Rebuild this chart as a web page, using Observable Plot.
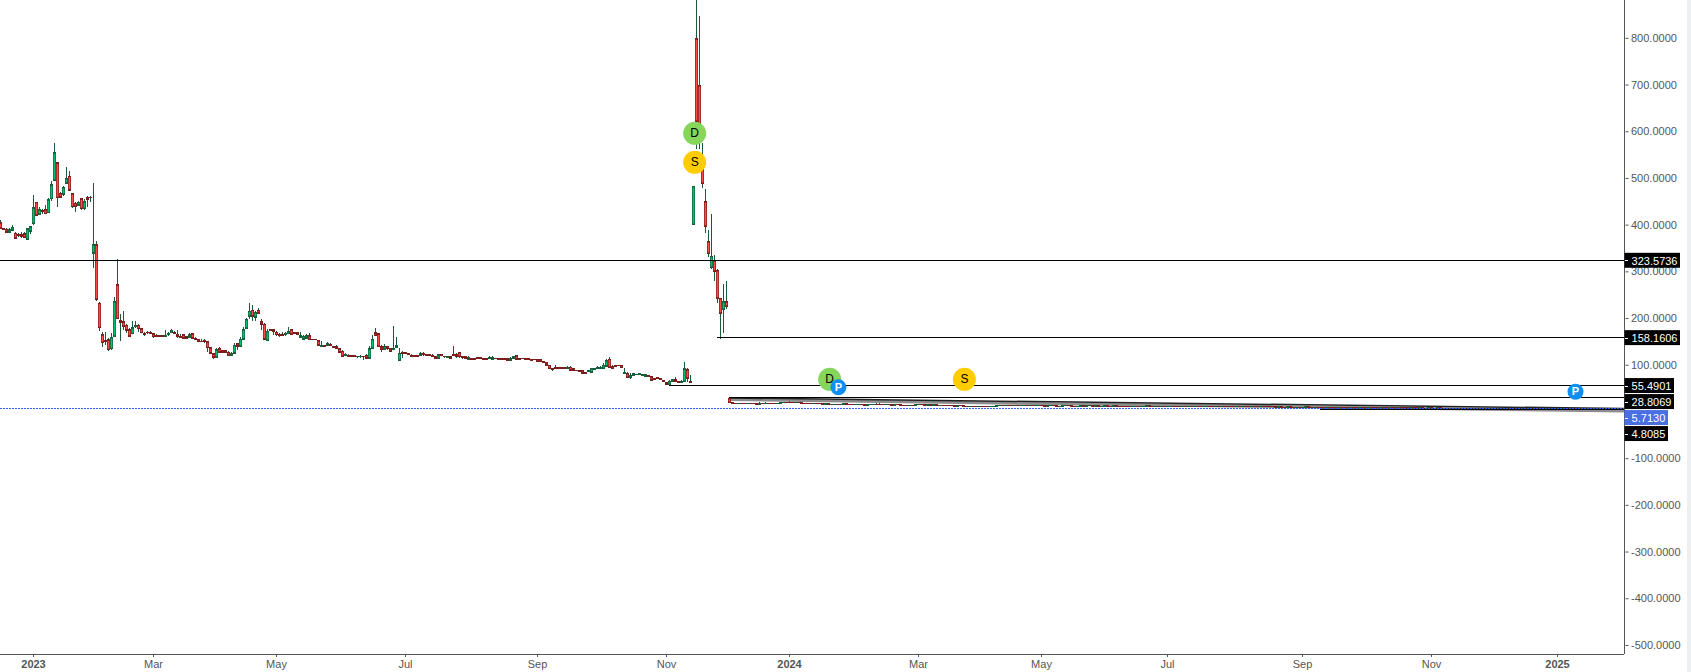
<!DOCTYPE html>
<html>
<head>
<meta charset="utf-8">
<script src="https://cdn.jsdelivr.net/npm/d3@7"></script>
<script src="https://cdn.jsdelivr.net/npm/@observablehq/plot@0.6"></script>
<style>
html,body{margin:0;padding:0;background:#fff;overflow:hidden}
#chart svg{display:block}
#strip{position:absolute;left:1687px;top:0;width:4px;height:672px;background:#eeeff1}
</style>
</head>
<body>
<div id="chart"></div>
<div id="strip"></div>
<script>
// Daily candles, first stretch
const open = [
403,391,389,383,387,381,378,377,379,368,
385,401,447,421,430,431,424,454,494,531,
466,464,488,503,465,445,441,454,433,456,
457,338,356,231,163,150,152,133,160,270,
193,191,184,174,165,180,184,176,166,169,
169,165,161,161,161,160,163,167,169,163,
159,163,159,158,165,156,153,149,150,148,
135,122,115,133,129,129,126,119,124,144,
138,154,177,203,216,201,216,191,186,151,
174,174,169,164,164,163,166,174,167,167,
158,154,156,161,154,154,150,139,140,141,
143,138,138,133,128,118,119,118,118,116,
116,117,119,113,134,167,165,137,132,137,
133,132,136,108,126,125,124,119,118,118,
119,124,121,121,118,116,113,120,117,114,
116,121,120,125,116,116,111,113,113,114,
114,113,113,112,111,113,113,113,113,112,
109,113,118,113,113,113,112,111,111,111,
111,105,103,98,91,93,93,92,92,90,
94,90,87,86,86,82,84,83,89,91,
91,91,96,111,95,98,98,98,81,80,
71,76,77,78,75,74,76,73,69,71,
70,66,60,57,64,68,64,60,63,88,
64,399,797,697,517,448,363,307,322,301,241,217,234];
const close = [
391,388,383,388,393,370,375,373,372,390,
394,435,419,431,428,422,452,484,553,456,
458,479,498,473,437,438,447,433,448,452,
456,356,239,178,146,148,131,157,234,197,
189,181,173,160,178,184,176,167,163,167,
165,159,159,159,159,161,166,172,165,159,
158,156,156,163,156,154,148,148,148,135,
124,115,131,126,126,126,119,124,141,139,
154,174,196,214,203,211,209,186,154,171,
173,171,163,162,162,166,171,164,165,164,
161,160,161,153,152,152,141,141,139,144,
141,136,134,126,117,121,117,116,116,117,
117,116,113,133,154,162,138,132,138,133,
128,134,141,124,123,123,121,117,117,117,
122,120,119,118,116,113,120,118,116,116,
113,119,116,116,115,113,114,111,111,113,
112,111,111,114,114,112,111,111,111,109,
113,116,111,111,112,111,111,109,110,106,
106,103,98,91,89,91,91,90,90,94,
87,86,86,85,81,81,86,91,91,92,
93,98,108,93,90,96,97,93,83,72,
76,80,79,80,78,78,73,66,67,69,
67,62,57,64,67,64,60,63,90,70,
60,481,620,613,487,395,337,331,299,241,209,234,224];
const high = [
408,392,391,392,398,383,381,384,383,392,
397,463,448,437,433,440,455,493,573,533,
468,481,523,513,467,447,450,456,453,461,
460,488,363,233,170,169,156,167,244,326,
208,215,187,178,192,192,187,178,170,171,
172,166,164,162,162,174,168,176,171,173,
164,164,161,166,167,159,154,153,154,150,
136,124,134,136,130,130,129,126,146,146,
158,180,199,232,226,214,221,196,189,176,
175,174,171,167,169,169,179,175,169,169,
168,163,165,166,155,155,151,149,142,147,
146,140,141,134,130,124,122,119,119,118,
119,118,121,139,163,178,167,142,144,138,
135,181,159,135,128,127,125,122,119,119,
126,126,122,122,121,118,121,121,118,118,
118,140,124,127,118,117,117,114,114,116,
115,114,114,117,117,114,114,114,114,113,
115,118,119,114,114,114,113,112,112,112,
112,106,104,99,92,98,94,93,93,96,
97,91,88,87,87,83,87,92,93,97,
96,103,111,116,98,99,99,99,91,84,
81,81,80,81,79,79,77,74,70,72,
71,67,61,67,69,73,65,66,104,91,
78,481,920,845,573,476,388,421,333,303,241,271,279];
const low = [
390,387,381,381,386,368,373,371,371,366,
378,399,417,420,421,421,423,449,492,436,
456,461,487,472,435,426,438,431,431,436,
447,306,235,171,136,142,129,131,159,196,
149,173,167,159,164,178,169,166,161,165,
164,157,158,158,158,159,161,166,164,156,
156,154,155,156,154,153,147,147,146,126,
123,112,114,125,126,125,119,119,123,131,
136,153,176,196,192,192,207,174,151,151,
171,163,161,159,161,161,165,162,164,163,
156,153,155,152,151,151,139,137,136,140,
141,134,133,124,116,117,116,115,115,114,
114,110,112,112,133,160,136,126,131,131,
126,131,135,106,113,121,121,116,116,116,
118,118,118,117,115,111,112,117,113,113,
112,118,113,114,112,111,110,110,110,111,
111,110,110,111,110,111,110,110,110,108,
108,111,110,110,111,110,110,108,109,105,
105,102,97,90,85,90,90,89,89,89,
86,85,85,84,80,80,83,82,87,90,
91,91,94,91,89,95,96,92,80,71,
69,75,76,77,74,73,72,65,66,68,
66,61,56,56,63,63,59,59,63,61,
59,399,560,560,478,380,329,303,279,232,155,166,219];

// Second stretch: near-flat candles, each opening on the previous entry
const lateSeries = [
27,18,16,15,15.5,15,15,15.5,15,15,14.5,15,
15,15.5,15,15,15,15.5,18,18.5,18,18,17.5,18,
17.5,16,15.5,15.5,15,15.5,15,15,14.5,15,13.5,14,
14.5,14,14.5,15,14.5,14,13.5,14,14.5,14,12.5,13,
14,14.5,14,13.5,13,13.5,13,12.5,13,13,11.5,11,
11,11.5,11,13,13.5,13,12.5,13,12.5,13,12,12.5,
12,11.5,11,11,10.5,11,11,10.5,10,10.5,10.5,10,
10.5,10,10,9.5,10,10.5,11,11.5,11,12,11.5,11,
12,11.5,12,12.5,11.5,12,11,11.5,12,11,10.5,11,
11.5,11,10,10.5,11,11.5,11,10.5,10,10.5,11,10.5,
11,11.5,10.5,11,10,10.5,11,10.5,10,11,10.5,10,
10,9.5,9,9.5,10,9.5,10,10.5,11,10.5,10,10.5,
10,10.5,9.5,10,10.5,10,10,9.5,10,9.5,10,9.5,
10,9.5,9,9.5,10,9.5,9,9.5,9.5,10,10,9.5,
9.5,9,9.5,9,9.5,9,9,9.5,9,8.5,9,9,
9,8.5,8.5,8,8.5,8,8,8.5,8,7.5,8,7.5,
8,8.5,8,7.5,8,8,7.5,7.5,8,8,7.5,7,
8,8,7.5,7,7.5,7.5,7,7.5,7,7,7.5,7,
7,6.5,7,7,6.5,7,6.5,6.5,7,6.5,6.5,6,
6.5,6.5,6,6.5,6,6,6.5,6,6,6.5,6,5.5,
6,6,5.5,6,5.5,5.5,6,5.5,5.5,6,5.5,5.5,
5,5.5,5.5,5,5.5,5,5,5.5,5,5,5.5,5,
5,5,4.5,5,5,4.5,5,5,4.5,5,4.5,5,
5,4.5,4.5,5,4.5,4.5,5,4.5,4.5,5,4.5,4.5];
const lateSpikeIndex = [253,255,263,292,293];
const lateSpikeHigh = [19,19,21,18,18];

// Axes
const yTicks = [800,700,600,500,400,300,200,100,-100,-200,-300,-400,-500];
const monthTicks = [51,92,135,179,222,306,347,389,434,477];
const monthLabels = ["Mar","May","Jul","Sep","Nov","Mar","May","Jul","Sep","Nov"];
const yearTicks = [11,263,519];
const yearLabels = ["2023","2024","2025"];

// Horizontal levels: value, first candle index
const levelValues = [323.5736,158.1606,55.4901,28.8069];
const levelStarts = [0,239,223,243];
const priceLine = 5.713;
const lowLine = 4.8085;
const lowLineStart = 440;

// Sloping lines across the late stretch
const slopeIndex = [243,541];
const slopeDark = [28.8,6.2];
const slopeGrey = [25.5,0.9];

// Price tags on the axis
const tagText = ["323.5736","158.1606","55.4901","28.8069","5.7130","4.8085"];
const tagPlace = [322.6,157,54.4,20.1,-14.1,-48.4];
const tagEnd = [560,560,558,558,556,556];
const tagFill = ["#000","#000","#000","#000","#4a6fe3","#000"];

// Event badges
const badgeLetter = ["D","S","D","S","P","P"];
const badgeIndex = [231.4,231.4,276.4,321.3,279.3,525];
const badgeValue = [595.5,533.4,68.7,68.7,51.6,42.2];
const badgeFill = ["#85d65a","#ffcc00","#85d65a","#ffcc00","#0f8ff5","#0f8ff5"];

const WICK="#1a5a3c", UP="#00c070", UPB="#155f3d", DOWN="#ff4a4a", DOWNB="#7c1d1d";

const early = open.map((o,i)=>({i,o,c:close[i],h:high[i],l:low[i]}));
const late = lateSeries.slice(0,-1).map((o,j)=>{
  const c = lateSeries[j+1];
  return {i:243+j,o,c,h:Math.max(o,c),l:Math.min(o,c)};
});
const candles = early.concat(late);
lateSpikeIndex.forEach((x,k)=>{candles[x].h=lateSpikeHigh[k];});
const rows = candles.map(d=>({...d,top:Math.max(d.o,d.c),bot:Math.min(d.o,d.c),up:d.c>d.o}));
const levels = levelValues.map((v,k)=>({v,s:levelStarts[k]}));
const tags = tagText.map((t,k)=>({t,p:tagPlace[k],e:tagEnd[k],f:tagFill[k]}));
const badges = badgeLetter.map((t,k)=>({t,x:badgeIndex[k],y:badgeValue[k],f:badgeFill[k]}));
const bigBadges = badges.filter(d=>d.t!=="P");
const smallBadges = badges.filter(d=>d.t==="P");
const slope = (vals)=>slopeIndex.map((x,k)=>({x,y:vals[k]}));

const body = (up,stroke,w,inset,flt,render)=>Plot.ruleX(rows.filter(d=>d.up===up&&flt(d)),{
  x:"i",y1:"top",y2:"bot",stroke,strokeWidth:w,insetTop:inset,insetBottom:inset,shapeRendering:render
});
const tall = d=>d.top-d.bot>4.5;

const chart = Plot.plot({
  width:1691,height:672,
  marginLeft:0,marginRight:66.5,marginTop:0,marginBottom:18,
  style:{fontFamily:"'Liberation Sans',Arial,sans-serif",background:"#fff",color:"#555",overflow:"hidden"},
  x:{domain:[0,541.5],axis:null},
  y:{domain:[-520.5,880],axis:null},
  marks:[
    Plot.line(slope(slopeGrey),{x:"x",y:"y",stroke:"#8d8d8d",strokeWidth:3}),
    Plot.line(slope(slopeDark),{x:"x",y:"y",stroke:"#222",strokeWidth:1.5}),
    Plot.ruleX(rows,{x:"i",y1:"h",y2:"l",stroke:WICK,strokeWidth:1,shapeRendering:"crispEdges"}),
    body(true,UPB,3,-0.5,()=>true,"crispEdges"),
    body(false,DOWNB,3,-0.5,()=>true,"crispEdges"),
    body(true,UP,1.7,1,tall,"auto"),
    body(false,DOWN,1.7,1,tall,"auto"),
    Plot.ruleY(levels,{y:"v",x1:"s",x2:541.5,stroke:"#000",strokeWidth:1,shapeRendering:"crispEdges"}),
    Plot.ruleY([lowLine],{x1:lowLineStart,x2:541.5,stroke:"#000",strokeWidth:1.5}),
    Plot.ruleY([priceLine],{x1:0,x2:541.5,stroke:"#2f62f0",strokeWidth:1,strokeDasharray:"2,1",shapeRendering:"crispEdges"}),
    Plot.ruleY([-520.5],{x1:0,x2:541.33,stroke:"#555",strokeWidth:1,shapeRendering:"crispEdges"}),
    Plot.ruleX([541.33],{y1:-520.5,y2:880,stroke:"#555",strokeWidth:1,shapeRendering:"crispEdges"}),
    Plot.axisY({anchor:"right",ticks:yTicks,tickFormat:d=>d.toFixed(4),tickSize:3,tickPadding:3,fontSize:11,label:null,textStroke:"none",dy:0.5}),
    Plot.axisX({anchor:"bottom",ticks:monthTicks,tickFormat:d=>monthLabels[monthTicks.indexOf(d)],tickSize:3,tickPadding:3,fontSize:11,label:null}),
    Plot.axisX({anchor:"bottom",ticks:yearTicks,tickFormat:d=>yearLabels[yearTicks.indexOf(d)],tickSize:3,tickPadding:3,fontSize:11,fontWeight:"bold",label:null}),
    Plot.rect(tags,{x1:541.5,x2:"e",y1:d=>d.p-16,y2:d=>d.p+16,fill:"f"}),
    Plot.ruleY(tags,{y:"p",x1:541.6,x2:542.5,stroke:"#fff",strokeWidth:1,shapeRendering:"crispEdges"}),
    Plot.text(tags,{x:543.7,y:"p",text:"t",textAnchor:"start",fill:"#fff",fontSize:11,dy:0.5}),
    Plot.dot(bigBadges,{x:"x",y:"y",r:11.5,fill:"f",stroke:null}),
    Plot.dot(smallBadges,{x:"x",y:"y",r:8,fill:"f",stroke:null}),
    Plot.text(bigBadges,{x:"x",y:"y",text:"t",fill:"#000",fontSize:12}),
    Plot.text(smallBadges,{x:"x",y:"y",text:"t",fill:"#fff",fontSize:11,fontWeight:"bold"})
  ]
});
document.getElementById("chart").appendChild(chart);
</script>
</body>
</html>
